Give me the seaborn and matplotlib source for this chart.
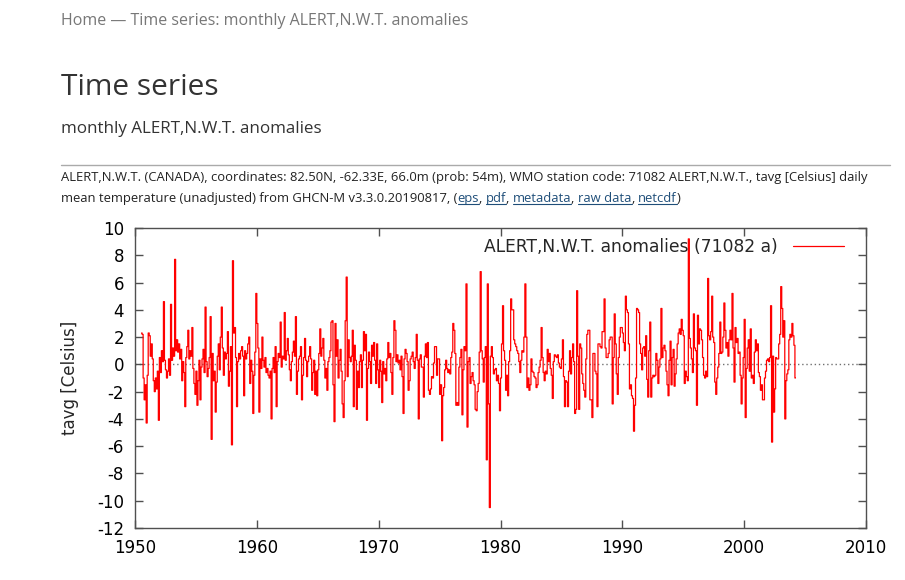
import numpy as np
import pandas as pd
import seaborn as sns
import matplotlib
matplotlib.use("Agg")
import matplotlib.pyplot as plt
from matplotlib.lines import Line2D

# monthly anomalies of ALERT,N.W.T. (71082), Jul 1950 .. Mar 2004
anom_1950s = [
    2.3, 2.2, -1.0, -2.6, -1.5, -4.3,
    -0.8, 2.3, 2.1, 0.6, 1.5, 0.4, -1.2, -2.0, -1.0, -1.8, -0.5, -4.1,
    0.5, -0.6, 1.0, 0.2, 4.6, 0.3, -0.4, -1.0, -0.5, 0.4, -0.8, 4.4,
    0.3, 1.2, 0.6, 7.7, 1.0, 1.8, 0.9, 1.5, 0.4, 1.1, -1.2, 0.2,
    -0.6, -3.1, 0.5, 1.3, 2.5, 0.4, 1.0, 0.6, 2.7, -0.3, -1.4, -2.2,
    -0.5, -3.0, -1.2, 0.3, -2.6, -0.2, 0.4, 1.1, -0.6, 4.2, 0.2, -0.9,
    -0.3, 0.5, 3.5, -5.5, 0.8, -1.2, -0.5, -3.5, -1.3, 0.6, 1.5, -0.4,
    2.0, 4.2, 1.2, -0.8, 0.9, 0.4, 0.8, 2.4, -1.6, -0.5, 1.3, -5.9,
    7.6, 2.3, 2.7, 0.5, -3.1, 0.2, 0.8, 0.4, 1.0, 1.3, 0.6, -2.3,
    1.0, 0.4, 0.8, 1.5, 2.0, -1.4, 0.3, -0.5, -3.6, -0.8, 0.9, 5.2,
]
anom_1960s = [
    3.0, 1.2, -3.5, 0.4, -0.3, 2.0, 0.3, -0.2, 0.5, -0.6, -0.3, -0.8,
    -1.0, -0.5, -4.0, -0.3, 0.5, -0.6, 1.3, -3.1, 0.2, 0.8, 0.5, 3.1,
    -0.2, 0.6, 0.4, 3.8, 0.3, 1.0, 1.9, 0.7, -0.4, -1.2, 0.2, 0.9,
    1.7, 0.6, 3.5, -2.2, -0.5, 0.4, 0.6, 1.3, -2.6, -0.8, 0.5, 1.9,
    0.3, -0.9, 0.2, 0.6, 1.3, 0.4, -1.9, -0.6, 0.3, -2.2, -0.5, -2.3,
    -0.4, 0.8, 2.6, 0.6, 1.2, 1.9, 0.3, -1.0, -0.3, -1.9, 0.2, 0.5,
    1.0, 3.1, 3.2, -1.5, -4.2, 3.0, 0.6, 1.8, -1.0, 0.3, 1.1, -0.5,
    -2.9, -3.9, -1.2, 3.2, 6.4, -0.9, 1.8, 0.5, 0.2, 0.6, 2.5, -3.1,
    1.4, 0.3, -3.3, -0.5, -1.7, 0.2, 0.7, -1.7, 0.3, 2.4, 1.0, 2.2,
    -4.1, -0.3, 0.9, 0.2, -1.4, 1.4, 0.6, 1.6, 0.3, -1.4, 1.5, -0.4,
]
anom_1970s = [
    -1.7, 0.3, -0.5, -2.8, 0.2, -0.7, -0.3, -1.2, 0.4, 1.6, 0.5, 0.8,
    -0.6, -2.2, 0.5, 3.2, 2.5, 0.2, 0.7, 0.1, 0.3, -0.4, 0.6, -0.9,
    -3.6, 0.4, 1.1, 0.8, 0.2, -1.9, -1.2, 0.4, 0.6, 0.9, 0.2, -0.3,
    0.5, 2.2, 0.3, -4.0, 0.4, 0.7, -0.2, -0.2, -2.4, 0.6, 1.5, 0.5,
    1.6, -1.9, -2.2, -1.8, -0.9, -1.0, 0.1, 1.3, 1.3, -0.8, 0.4, 0.4,
    -2.2, -1.5, -5.6, -2.3, -1.7, -0.4, 0.3, -0.3, -0.6, -0.4, -0.7, 0.5,
    0.9, 3.0, 2.5, 0.8, -3.0, -2.8, -3.0, -0.2, 0.5, 1.1, -3.7, -0.4,
    1.3, 1.0, 5.9, -4.6, 0.2, 0.5, -1.4, -0.9, -0.6, -1.2, -1.5, -3.3,
    -3.4, -2.0, -1.4, 0.9, 6.8, 1.0, 0.4, -1.3, 0.5, 1.3, -7.0, 5.9,
    -2.9, -10.5, 0.6, 1.3, 0.5, -0.7, -0.4, -0.3, -1.2, -0.8, -1.4, -3.4,
]
anom_1980s = [
    -1.0, 1.5, 4.3, 1.0, 0.3, -1.9, -0.8, -2.3, 0.2, 1.0, 4.8, 4.0,
    4.0, 1.8, 1.5, 1.3, 1.0, 0.8, 0.2, -0.6, 0.3, 1.0, 0.9, 2.0,
    5.9, 2.0, -1.7, -1.0, -1.9, -1.5, 0.4, -0.5, -0.6, -0.9, -1.0, -1.7,
    -1.5, -0.6, -0.2, 0.3, 2.7, 0.5, -0.6, -1.2, -0.5, -0.7, 1.1, 0.2,
    0.8, -0.3, -0.8, -2.5, 0.2, 0.7, 0.6, 0.5, 0.7, 0.1, -0.2, -0.3,
    0.4, 1.8, -0.9, -3.1, -1.2, -1.3, -3.1, -0.5, 1.0, -0.7, 0.5, 1.5,
    0.2, -3.6, -3.3, 5.4, 0.6, -3.3, 1.5, 1.2, -0.7, -1.4, -1.9, -2.4,
    0.4, 2.2, 2.5, 2.5, -2.6, -2.6, -3.9, 0.8, 0.8, -0.5, -0.7, -3.1,
    1.5, 1.5, 1.3, 1.2, 2.4, 2.4, 4.8, 1.2, 0.5, 0.5, 0.8, 1.8,
    2.0, 2.0, -2.9, 0.5, 3.7, 1.5, -0.7, -2.2, 0.5, 2.0, 2.7, 2.7,
]
anom_1990s = [
    2.3, 1.6, 1.0, 5.0, 4.0, 3.8, 1.5, -1.8, -1.5, -2.3, -2.5, -4.9,
    -3.0, -1.0, 4.1, 4.0, 3.8, 1.5, 0.8, -0.4, 1.2, 1.3, 0.6, 2.1,
    -1.1, -2.4, 1.0, 3.1, -2.4, -1.0, -0.8, -0.9, -0.8, 0.8, 0.3, -1.4,
    -0.2, 0.4, 4.1, 0.5, 1.2, 1.4, 1.0, -0.5, -1.5, -2.3, 0.3, 1.7,
    -1.5, 0.5, 1.1, -1.6, -0.7, 0.4, 1.5, 2.3, 2.6, 2.2, 3.3, 2.5,
    2.1, -1.4, -0.5, -0.9, -1.2, 9.2, 1.9, 1.2, 0.4, -0.6, 3.7, 1.2,
    1.0, -3.0, 3.6, 1.5, 2.6, 2.5, 1.8, 0.5, -0.8, -1.0, -0.5, -0.9,
    6.3, 2.1, 1.8, 2.4, 5.0, 2.0, 1.6, -1.3, -2.2, -1.0, -0.2, 0.8,
    3.1, 0.8, 0.9, 2.0, 4.5, 2.5, 1.2, 1.6, 0.6, 1.8, 2.5, 1.8,
    5.2, 1.2, -1.3, 2.7, 1.6, 1.9, 0.8, 0.9, -0.8, -2.9, -1.0, 0.5,
]
anom_2000s = [
    3.3, -3.9, -0.3, 1.2, 1.8, -0.5, 2.6, -1.0, -0.8, -1.4, 0.9, 1.8,
    1.0, 1.5, -0.6, -0.9, -1.9, -1.5, -2.6, -2.6, -1.0, -0.5, 0.3, 0.4,
    0.2, 0.5, 4.3, -5.7, 0.6, -3.5, -1.8, 0.5, 0.4, 0.4, 1.5, 2.2,
    5.7, 4.1, 2.0, 3.2, -4.0, -1.2, -0.7, -0.4, 1.8, 2.2, 2.0, 3.0,
    2.1, 1.4, -1.0,
]

series_label = "ALERT,N.W.T. anomalies (71082 a)"
x_ticks = [1950, 1960, 1970, 1980, 1990, 2000, 2010]
y_ticks = [-12, -10, -8, -6, -4, -2, 0, 2, 4, 6, 8, 10]

values = anom_1950s + anom_1960s + anom_1970s + anom_1980s + anom_1990s + anom_2000s
# first value is July 1950, plotted at the middle of the month
years = 1950 + (6.5 + np.arange(len(values))) / 12
df = pd.DataFrame({"year": years, "anomaly": values})

sns.set_style("ticks")
plt.rcParams["font.family"] = ["DejaVu Sans"]
plt.rcParams["axes.unicode_minus"] = False

W, H = 905, 580
fig = plt.figure(figsize=(W / 100, H / 100), dpi=100)


def fx(x):
    return x / W


def fy(y):
    return 1 - y / H


# --- page header -----------------------------------------------------------
renderer = fig.canvas.get_renderer()
page_font = ["Open Sans", "DejaVu Sans"]


def width_of(s, **kw):
    t = fig.text(0, 0, s + ".", **kw)
    w1 = t.get_window_extent(renderer).width
    t.remove()
    t = fig.text(0, 0, ".", **kw)
    w2 = t.get_window_extent(renderer).width
    t.remove()
    return w1 - w2


def fitted_size(s, target_px, **kw):
    return 10 * target_px / width_of(s, size=10, **kw)


crumb = "Home \u2014 Time series: monthly ALERT,N.W.T. anomalies"
fig.text(fx(61), fy(25), crumb, family=page_font, color="#777777",
         size=fitted_size(crumb, 407, family=page_font), va="baseline")
fig.text(fx(61), fy(95), "Time series", family=page_font, color="#333333",
         size=fitted_size("Time series", 158, family=page_font), va="baseline")
sub = "monthly ALERT,N.W.T. anomalies"
fig.text(fx(61), fy(133), sub, family=page_font, color="#333333",
         size=fitted_size(sub, 260, family=page_font), va="baseline")
fig.add_artist(Line2D([fx(61), fx(890)], [fy(165), fy(165)], color="#aaaaaa", lw=1))

line1 = ("ALERT,N.W.T. (CANADA), coordinates: 82.50N, -62.33E, 66.0m (prob: 54m), "
         "WMO station code: 71082 ALERT,N.W.T., tavg [Celsius] daily")
cap_size = fitted_size(line1, 805, family=page_font)
fig.text(fx(61), fy(181), line1, family=page_font, color="#222222", size=cap_size, va="baseline")

pieces = [("mean temperature (unadjusted) from GHCN-M v3.3.0.20190817, (", False),
          ("eps", True), (", ", False), ("pdf", True), (", ", False),
          ("metadata", True), (", ", False), ("raw data", True), (", ", False),
          ("netcdf", True), (")", False)]
cursor = 61
for txt, is_link in pieces:
    col = "#1f4e79" if is_link else "#222222"
    fig.text(fx(cursor), fy(202), txt, family=page_font, color=col, size=cap_size, va="baseline")
    w = width_of(txt, family=page_font, size=cap_size)
    if is_link:
        fig.add_artist(Line2D([fx(cursor), fx(cursor + w)], [fy(204), fy(204)], color=col, lw=0.8))
    cursor += w

# --- chart -----------------------------------------------------------------
ax = fig.add_axes([fx(135), fy(528), 731 / W, 300 / H])
ax.axhline(0, color="#707070", lw=1, ls=(0, (1, 2)), zorder=0)
sns.lineplot(data=df, x="year", y="anomaly", ax=ax, color="#ff0000", lw=0.9,
             drawstyle="steps-mid", estimator=None, label=series_label)

ax.set_xlim(1950, 2010)
ax.set_ylim(-12, 10)
ax.set_xticks(x_ticks)
ax.set_yticks(y_ticks)
ax.tick_params(direction="in", length=6, width=1, color="#505050", labelsize=12,
               labelcolor="black", top=True, right=True, pad=8)
for s in ax.spines.values():
    s.set_color("#505050")
    s.set_linewidth(1)
ax.set_xlabel("")
ax.set_ylabel("tavg [Celsius]", fontsize=12)
ax.yaxis.set_label_coords(-0.077, 0.5)
ax.legend(loc="upper right", bbox_to_anchor=(0.979, 0.989), borderaxespad=0,
          frameon=False, markerfirst=False, fontsize=12.3,
          handlelength=3.0, handletextpad=0.85)

fig.savefig("out.png", dpi=100)
